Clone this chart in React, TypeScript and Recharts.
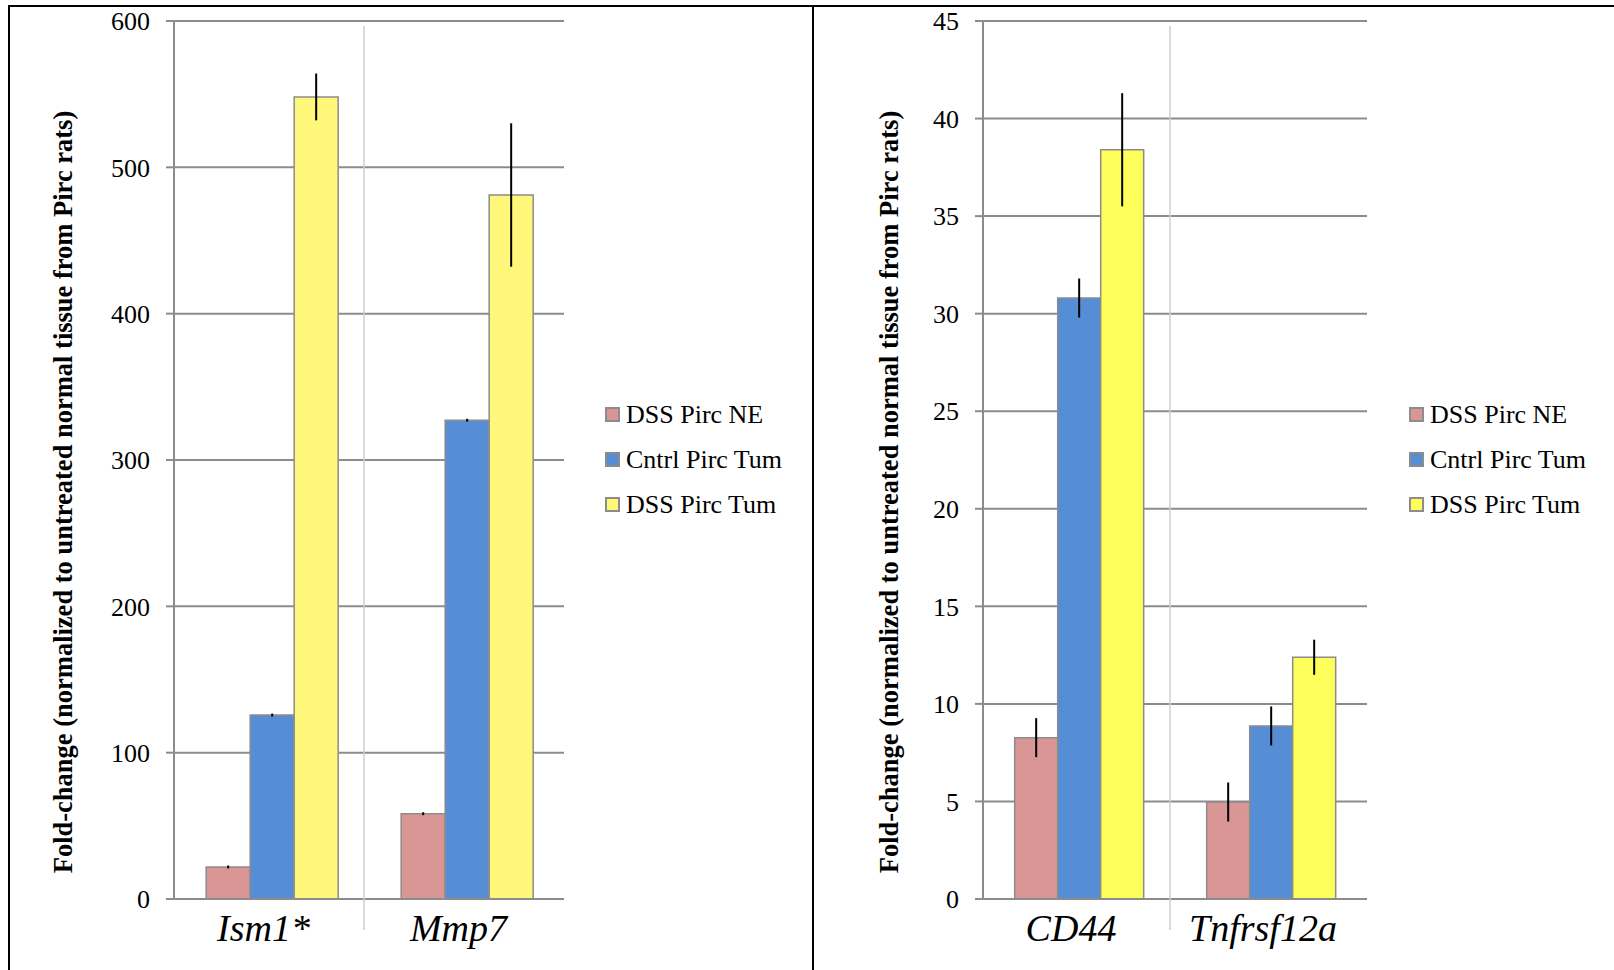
import React from 'react'
import { BarChart, Bar, XAxis, YAxis, CartesianGrid, ErrorBar } from 'recharts'

// series names (legend order)
const SERIES = ['DSS Pirc NE', 'Cntrl Pirc Tum', 'DSS Pirc Tum']

// left panel
const leftGenes = ['Ism1*', 'Mmp7']
const leftNE = [21.9, 58.3]
const leftNEErr = [1, 1]
const leftCntrl = [125.7, 327.2]
const leftCntrlErr = [1, 1]
const leftDSS = [548.1, 481.1]
const leftDSSErr = [16, 49]
const leftTicks = [0, 100, 200, 300, 400, 500, 600]

// right panel
const rightGenes = ['CD44', 'Tnfrsf12a']
const rightNE = [8.27, 4.97]
const rightNEErr = [1.0, 1.0]
const rightCntrl = [30.8, 8.87]
const rightCntrlErr = [1.0, 1.0]
const rightDSS = [38.4, 12.39]
const rightDSSErr = [2.9, 0.9]
const rightTicks = [0, 5, 10, 15, 20, 25, 30, 35, 40, 45]

const Y_TITLE = 'Fold-change (normalized to untreated normal tissue from Pirc rats)'

const FONT = '"Liberation Serif", "Times New Roman", serif'
const GRID = '#8c8c8c'
const PINK = '#D99694'
const BLUE = '#558ED5'

const CHART_H = 970
const PLOT_TOP = 21
const PLOT_BOTTOM = 899
const PLOT_H = PLOT_BOTTOM - PLOT_TOP
const X_AXIS_H = 50

const buildRows = (
  genes: string[],
  ne: number[],
  neErr: number[],
  cntrl: number[],
  cntrlErr: number[],
  dss: number[],
  dssErr: number[],
) =>
  genes.map((g, i) => ({
    gene: g,
    ne: ne[i],
    neErr: neErr[i],
    cntrl: cntrl[i],
    cntrlErr: cntrlErr[i],
    dss: dss[i],
    dssErr: dssErr[i],
  }))

// category label plus the light separator line between categories
const CategoryTick = (props: any) => {
  const { x, y, payload, index, visibleTicksCount } = props
  const half = payload?.offset ?? 0
  const last = index >= (visibleTicksCount ?? 2) - 1
  return (
    <g>
      {!last && (
        <line
          x1={x + half - 5}
          x2={x + half - 5}
          y1={y - PLOT_H + 5}
          y2={y + 31}
          stroke="#cfcfcf"
          strokeWidth={1.5}
        />
      )}
      <text
        x={x - 8}
        y={y + 42}
        textAnchor="middle"
        fontStyle="italic"
        fontSize={38}
        fontFamily={FONT}
        fill="#000"
      >
        {payload.value}
      </text>
    </g>
  )
}

interface PanelProps {
  left: number
  width: number
  plotLeft: number
  plotRight: number
  titleX: number
  legendX: number
  rows: any[]
  ticks: number[]
  yellow: string
}

function Panel({ left, width, plotLeft, plotRight, titleX, legendX, rows, ticks, yellow }: PanelProps) {
  const axisW = 74
  const colors = [PINK, BLUE, yellow]
  return (
    <div style={{ position: 'absolute', left, top: 0, width, height: CHART_H }}>
      <BarChart
        width={width}
        height={CHART_H}
        data={rows}
        margin={{
          top: PLOT_TOP,
          right: width - plotRight,
          bottom: CHART_H - PLOT_BOTTOM - X_AXIS_H,
          left: plotLeft - axisW,
        }}
        barCategoryGap="16.5%"
        barGap={0}
      >
        <CartesianGrid vertical={false} stroke={GRID} strokeWidth={2} />
        <XAxis
          dataKey="gene"
          height={X_AXIS_H}
          axisLine={{ stroke: GRID, strokeWidth: 2 }}
          tickLine={false}
          tickSize={0}
          tickMargin={0}
          interval={0}
          tick={<CategoryTick />}
        />
        <YAxis
          width={axisW}
          domain={[ticks[0], ticks[ticks.length - 1]]}
          ticks={ticks}
          interval={0}
          axisLine={{ stroke: GRID, strokeWidth: 2 }}
          tickLine={{ stroke: GRID, strokeWidth: 2 }}
          tickSize={8}
          tickMargin={16}
          tick={{ fontSize: 26, fontFamily: FONT, fill: '#000' }}
          label={() => (
            <text
              x={titleX}
              y={492}
              transform={`rotate(-90 ${titleX} 492)`}
              textAnchor="middle"
              dominantBaseline="central"
              fontSize={26.5}
              fontWeight="bold"
              fontFamily={FONT}
              fill="#000"
            >
              {Y_TITLE}
            </text>
          )}
        />
        <Bar dataKey="ne" name={SERIES[0]} fill={PINK} stroke={GRID} strokeWidth={1.5} isAnimationActive={false}>
          <ErrorBar dataKey="neErr" width={0} stroke="#000" strokeWidth={2} direction="y" />
        </Bar>
        <Bar dataKey="cntrl" name={SERIES[1]} fill={BLUE} stroke={GRID} strokeWidth={1.5} isAnimationActive={false}>
          <ErrorBar dataKey="cntrlErr" width={0} stroke="#000" strokeWidth={2} direction="y" />
        </Bar>
        <Bar dataKey="dss" name={SERIES[2]} fill={yellow} stroke={GRID} strokeWidth={1.5} isAnimationActive={false}>
          <ErrorBar dataKey="dssErr" width={0} stroke="#000" strokeWidth={2} direction="y" />
        </Bar>
      </BarChart>
      <div style={{ position: 'absolute', left: legendX, top: 392, fontFamily: FONT, fontSize: 26, color: '#000' }}>
        {SERIES.map((s, i) => (
          <div key={s} style={{ display: 'flex', alignItems: 'center', height: 45, whiteSpace: 'nowrap' }}>
            <span
              style={{
                display: 'inline-block',
                width: 11,
                height: 11,
                background: colors[i],
                border: `2px solid ${GRID}`,
                marginRight: 6,
              }}
            />
            <span style={{ lineHeight: '30px' }}>{s}</span>
          </div>
        ))}
      </div>
    </div>
  )
}

export default function App() {
  const leftRows = buildRows(leftGenes, leftNE, leftNEErr, leftCntrl, leftCntrlErr, leftDSS, leftDSSErr)
  const rightRows = buildRows(rightGenes, rightNE, rightNEErr, rightCntrl, rightCntrlErr, rightDSS, rightDSSErr)
  return (
    <div style={{ position: 'fixed', left: 0, top: 0, width: 1614, height: 970, background: '#fff', overflow: 'hidden' }}>
      <div style={{ position: 'absolute', left: 8, top: 5, width: 805, height: 1000, borderLeft: '2px solid #000', borderTop: '2px solid #000' }} />
      <div style={{ position: 'absolute', left: 812, top: 5, width: 820, height: 1000, borderLeft: '2px solid #000', borderTop: '2px solid #000' }} />
      <Panel
        left={0}
        width={800}
        plotLeft={174}
        plotRight={564}
        titleX={63}
        legendX={605}
        rows={leftRows}
        ticks={leftTicks}
        yellow="#FFF77A"
      />
      <Panel
        left={800}
        width={814}
        plotLeft={183}
        plotRight={567}
        titleX={89}
        legendX={609}
        rows={rightRows}
        ticks={rightTicks}
        yellow="#FFFF5C"
      />
    </div>
  )
}
